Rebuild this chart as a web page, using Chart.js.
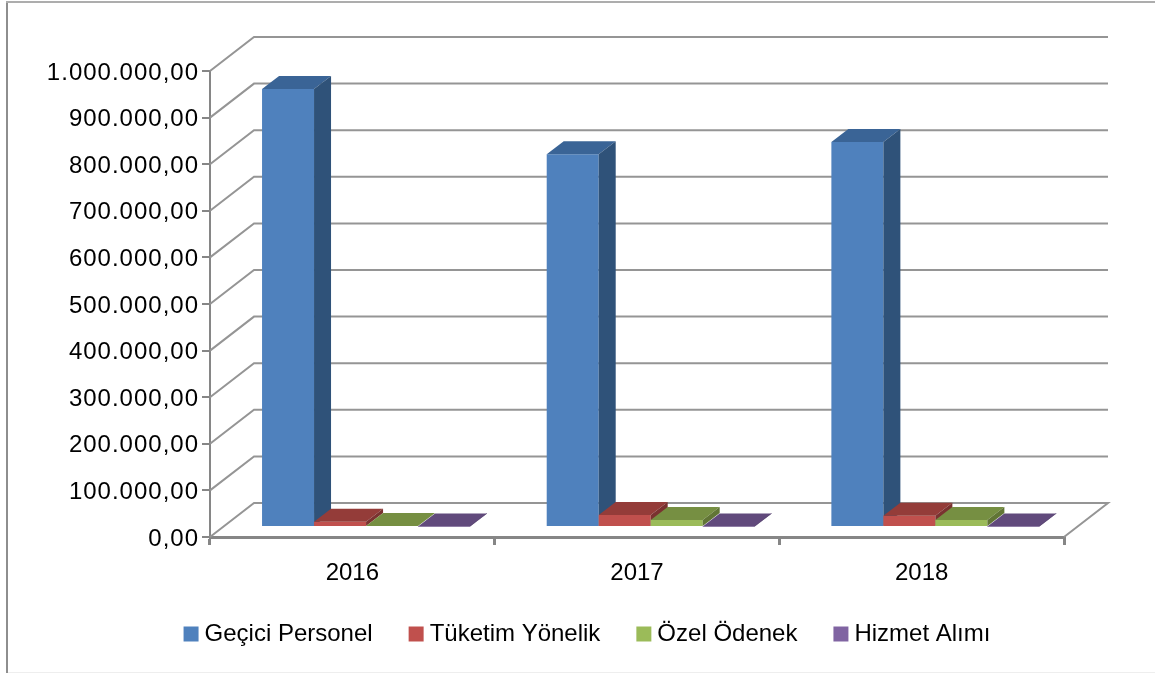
<!DOCTYPE html>
<html><head><meta charset="utf-8">
<style>
html,body{margin:0;padding:0;background:#fff;overflow:hidden}
#wrap{position:absolute;left:0;top:0;width:1155px;height:673px}
#bl{position:absolute;left:6px;top:1px;width:2px;height:672px;background:#8e8e8e}
#bt{position:absolute;left:6px;top:1px;width:1149px;height:2px;background:#adadad}
#bb{position:absolute;left:8px;top:672px;width:1147px;height:1px;background:#eeeeee}
canvas{position:absolute;left:0;top:0}
</style>
<script src="https://cdn.jsdelivr.net/npm/chart.js@4"></script>
</head><body>
<div id="wrap"><div id="bl"></div><div id="bt"></div><div id="bb"></div><canvas id="c" width="1155" height="673"></canvas></div>
<script>
const categories = ['2016','2017','2018'];
const geciciPersonel = [940000, 800000, 826000];
const tuketimYonelik = [11000, 26000, 24000];
const ozelOdenek = [2000, 15000, 15000];
const hizmetAlimi = [1000, 1000, 1000];
const seriesNames = ['Geçici Personel','Tüketim Yönelik','Özel Ödenek','Hizmet Alımı'];

const FONT = 'Liberation Sans, Arial, sans-serif';
const wall = {dx:44, dy:34, color:'#959595', width:2};
const barShift = {dx:13.7, dy:10};
const barDepth = {dx:17, dy:13};
const topColors = ['#3a6496','#943c39','#768f42','#614a7c'];
const sideColors = ['#2f5279','#7a3230','#617535','#4f3d66'];
const colors=['#4F81BD','#C0504D','#9BBB59','#8064A2'];
const seriesData=[geciciPersonel,tuketimYonelik,ozelOdenek,hizmetAlimi];

const fmt = v => String(Math.round(v)).replace(/\B(?=(\d{3})+(?!\d))/g,'.') + ',00';

const pseudo3d = {
  id:'pseudo3d',
  afterLayout(chart){
    const y=chart.scales.y, ctx=chart.ctx;
    y.left=0;
    if(!y._ls){
      y._ls=true;
      const orig=y.drawLabels;
      y.drawLabels=function(a){
        ctx.save();
        ctx.letterSpacing='1px';
        ctx.translate(0,2);
        orig.call(this,a);
        ctx.restore();
      };
    }
  },
  beforeDatasetDraw(){ return false; },
  beforeDatasetsDraw(chart){
    const {ctx, scales:{x,y}} = chart;
    const l=x.left, r=x.right, b=y.bottom;
    ctx.save();
    ctx.strokeStyle=wall.color; ctx.lineWidth=wall.width;
    y.ticks.forEach(t=>{
      const p=y.getPixelForValue(t.value);
      ctx.beginPath();
      ctx.moveTo(l,p); ctx.lineTo(l+wall.dx,p-wall.dy); ctx.lineTo(r+wall.dx,p-wall.dy);
      if(t.value===0){ ctx.lineTo(r,b); }
      ctx.stroke();
    });
    ctx.restore();
  },
  afterDatasetsDraw(chart){
    const ctx=chart.ctx;
    ctx.save();
    ctx.translate(barShift.dx,-barShift.dy);
    categories.forEach((_,c)=>{
      seriesNames.forEach((_,i)=>{
        const meta=chart.getDatasetMeta(i), bar=meta.data[c];
        bar.draw(ctx);
        const p=bar.getProps(['x','y','base','width'],true);
        const L=p.x-p.width/2, R=p.x+p.width/2, T=p.y, B=p.base;
        ctx.fillStyle=topColors[i];
        ctx.beginPath();
        ctx.moveTo(L,T);ctx.lineTo(L+barDepth.dx,T-barDepth.dy);ctx.lineTo(R+barDepth.dx,T-barDepth.dy);ctx.lineTo(R,T);
        ctx.closePath();ctx.fill();
        ctx.fillStyle=sideColors[i];
        ctx.beginPath();
        ctx.moveTo(R,T);ctx.lineTo(R+barDepth.dx,T-barDepth.dy);ctx.lineTo(R+barDepth.dx,B-barDepth.dy);ctx.lineTo(R,B);
        ctx.closePath();ctx.fill();
      });
    });
    ctx.restore();
  }
};

new Chart(document.getElementById('c'),{
  type:'bar',
  data:{labels:categories,datasets:seriesNames.map((n,i)=>({
    label:n,data:seriesData[i],backgroundColor:colors[i],borderWidth:0,
    categoryPercentage:0.7306,barPercentage:1,clip:false
  }))},
  plugins:[pseudo3d],
  options:{
    responsive:false,animation:false,
    layout:{padding:{left:116,right:91,top:71,bottom:17}},
    plugins:{
      tooltip:{enabled:false},
      legend:{position:'bottom',labels:{
        font:{family:FONT,size:24},color:'#000',boxWidth:3,boxHeight:3,padding:42,
        generateLabels(chart){
          return chart.data.datasets.map((d,i)=>({text:d.label,fillStyle:colors[i],strokeStyle:colors[i],lineWidth:12,datasetIndex:i,hidden:false}));
        }
      }}
    },
    scales:{
      x:{
        afterFit(s){s.height=43;},
        border:{color:'#868686',width:3},
        grid:{drawOnChartArea:false,color:'#868686',tickLength:8,lineWidth:3,offset:true},
        ticks:{color:'#000',font:{family:FONT,size:24},padding:14,maxRotation:0}
      },
      y:{
        min:0,max:1000000,
        afterFit(s){s.width=94;},
        border:{color:'#868686',width:2},
        grid:{drawOnChartArea:false,color:'#868686',tickLength:8,lineWidth:2},
        ticks:{stepSize:100000,color:'#000',font:{family:FONT,size:24},padding:3,callback:v=>fmt(v)}
      }
    }
  }
});
</script>
</body></html>
